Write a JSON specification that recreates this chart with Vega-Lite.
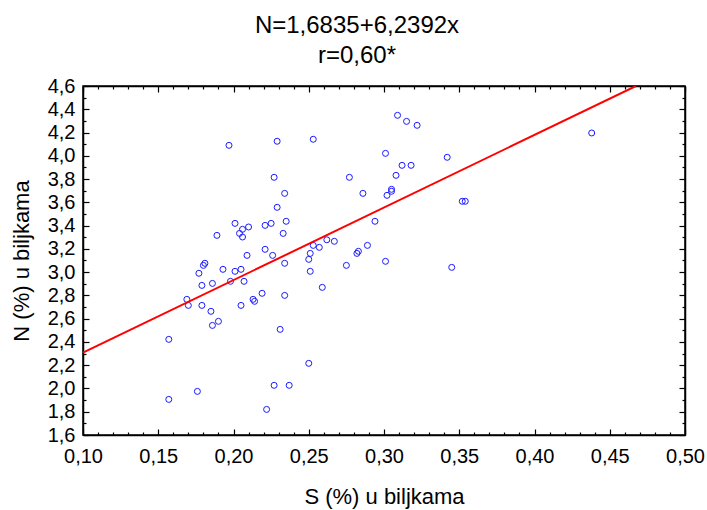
{
  "$schema": "https://vega.github.io/schema/vega-lite/v6.json",
  "width": 602,
  "height": 349,
  "autosize": {"type": "none"},
  "padding": {"left": 83, "top": 86, "right": 22, "bottom": 75},
  "background": "white",
  "config": {
    "view": {"stroke": "black", "strokeWidth": 1.5},
    "font": "Liberation Sans",
    "axis": {"grid": false, "domainColor": "black", "domainWidth": 1.5, "tickColor": "black", "tickWidth": 1.2, "labelColor": "black", "titleColor": "black", "labelFont": "Liberation Sans", "titleFont": "Liberation Sans", "titleFontWeight": "normal"}
  },
  "title": {
    "text": ["N=1,6835+6,2392x", "r=0,60*"],
    "font": "Liberation Sans",
    "fontSize": 24,
    "fontWeight": "normal",
    "color": "black",
    "anchor": "middle",
    "dx": -27,
    "lineHeight": 30,
    "offset": 8
  },
  "datasets": {
    "pts": [
      {"S": 0.197, "N": 4.090}, {"S": 0.229, "N": 4.125}, {"S": 0.253, "N": 4.142},
      {"S": 0.227, "N": 3.815}, {"S": 0.234, "N": 3.677}, {"S": 0.229, "N": 3.557},
      {"S": 0.201, "N": 3.419}, {"S": 0.206, "N": 3.368}, {"S": 0.210, "N": 3.388},
      {"S": 0.204, "N": 3.333}, {"S": 0.206, "N": 3.302}, {"S": 0.221, "N": 3.402},
      {"S": 0.225, "N": 3.419}, {"S": 0.235, "N": 3.437}, {"S": 0.233, "N": 3.333},
      {"S": 0.189, "N": 3.316}, {"S": 0.209, "N": 3.144}, {"S": 0.221, "N": 3.196},
      {"S": 0.226, "N": 3.144}, {"S": 0.253, "N": 3.230}, {"S": 0.257, "N": 3.213},
      {"S": 0.262, "N": 3.278}, {"S": 0.267, "N": 3.265}, {"S": 0.251, "N": 3.161},
      {"S": 0.250, "N": 3.110}, {"S": 0.234, "N": 3.076}, {"S": 0.181, "N": 3.076},
      {"S": 0.180, "N": 3.058}, {"S": 0.177, "N": 2.990}, {"S": 0.193, "N": 3.024},
      {"S": 0.201, "N": 3.007}, {"S": 0.205, "N": 3.024}, {"S": 0.251, "N": 3.007},
      {"S": 0.179, "N": 2.886}, {"S": 0.186, "N": 2.903}, {"S": 0.198, "N": 2.921},
      {"S": 0.207, "N": 2.921}, {"S": 0.169, "N": 2.766}, {"S": 0.170, "N": 2.714},
      {"S": 0.179, "N": 2.714}, {"S": 0.185, "N": 2.663}, {"S": 0.205, "N": 2.714},
      {"S": 0.213, "N": 2.766}, {"S": 0.214, "N": 2.749}, {"S": 0.219, "N": 2.818},
      {"S": 0.234, "N": 2.800}, {"S": 0.259, "N": 2.869}, {"S": 0.186, "N": 2.542},
      {"S": 0.190, "N": 2.577}, {"S": 0.231, "N": 2.508}, {"S": 0.157, "N": 2.422},
      {"S": 0.250, "N": 2.216}, {"S": 0.157, "N": 1.906}, {"S": 0.176, "N": 1.975},
      {"S": 0.227, "N": 2.027}, {"S": 0.237, "N": 2.027}, {"S": 0.222, "N": 1.820},
      {"S": 0.309, "N": 4.348}, {"S": 0.315, "N": 4.296}, {"S": 0.322, "N": 4.262},
      {"S": 0.301, "N": 4.021}, {"S": 0.342, "N": 3.987}, {"S": 0.277, "N": 3.815},
      {"S": 0.312, "N": 3.918}, {"S": 0.318, "N": 3.918}, {"S": 0.308, "N": 3.832},
      {"S": 0.286, "N": 3.677}, {"S": 0.305, "N": 3.712}, {"S": 0.305, "N": 3.695},
      {"S": 0.302, "N": 3.660}, {"S": 0.352, "N": 3.609}, {"S": 0.354, "N": 3.609},
      {"S": 0.294, "N": 3.437}, {"S": 0.289, "N": 3.230}, {"S": 0.282, "N": 3.161},
      {"S": 0.283, "N": 3.179}, {"S": 0.301, "N": 3.093}, {"S": 0.275, "N": 3.058},
      {"S": 0.345, "N": 3.041}, {"S": 0.438, "N": 4.196}
    ],
    "fit": [
      {"S": 0.10, "N": 2.3074},
      {"S": 0.4674, "N": 4.6}
    ]
  },
  "layer": [
    {
      "data": {"name": "pts"},
      "mark": {"type": "point", "shape": "circle", "filled": false, "color": "#1a1aff", "size": 36, "strokeWidth": 1, "opacity": 1},
      "encoding": {
        "x": {
          "field": "S", "type": "quantitative",
          "scale": {"domain": [0.1, 0.5], "nice": false, "zero": false},
          "axis": {
            "orient": "bottom",
            "title": "S (%) u biljkama",
            "titleFontSize": 22,
            "titlePadding": 17,
            "labelFontSize": 20,
            "labelPadding": 17,
            "values": [0.10,0.11,0.12,0.13,0.14,0.15,0.16,0.17,0.18,0.19,0.20,0.21,0.22,0.23,0.24,0.25,0.26,0.27,0.28,0.29,0.30,0.31,0.32,0.33,0.34,0.35,0.36,0.37,0.38,0.39,0.40,0.41,0.42,0.43,0.44,0.45,0.46,0.47,0.48,0.49,0.50],
            "labelExpr": "round(datum.value*100) % 5 == 0 ? replace(format(datum.value, '.2f'), '.', ',') : ''",
            "labelOverlap": false,
            "labelFlush": false,
            "tickSize": {"condition": {"test": "round(datum.value*100) % 5 == 0", "value": -6}, "value": -3}
          }
        },
        "y": {
          "field": "N", "type": "quantitative",
          "scale": {"domain": [1.6, 4.6], "nice": false, "zero": false},
          "axis": {
            "orient": "left",
            "title": "N (%) u biljkama",
            "titleFontSize": 22,
            "titlePadding": 14,
            "labelFontSize": 20,
            "labelPadding": 14,
            "values": [1.6,1.7,1.8,1.9,2.0,2.1,2.2,2.3,2.4,2.5,2.6,2.7,2.8,2.9,3.0,3.1,3.2,3.3,3.4,3.5,3.6,3.7,3.8,3.9,4.0,4.1,4.2,4.3,4.4,4.5,4.6],
            "labelExpr": "round(datum.value*10) % 2 == 0 ? replace(format(datum.value, '.1f'), '.', ',') : ''",
            "labelOverlap": false,
            "labelFlush": false,
            "tickSize": {"condition": {"test": "round(datum.value*10) % 2 == 0", "value": -6}, "value": -3}
          }
        }
      }
    },
    {
      "data": {"name": "fit"},
      "mark": {"type": "line", "color": "#ff0000", "strokeWidth": 2, "clip": true},
      "encoding": {
        "x": {
          "field": "S", "type": "quantitative",
          "scale": {"domain": [0.1, 0.5], "nice": false, "zero": false},
          "axis": {
            "orient": "top",
            "title": null,
            "labels": false,
            "values": [0.10,0.11,0.12,0.13,0.14,0.15,0.16,0.17,0.18,0.19,0.20,0.21,0.22,0.23,0.24,0.25,0.26,0.27,0.28,0.29,0.30,0.31,0.32,0.33,0.34,0.35,0.36,0.37,0.38,0.39,0.40,0.41,0.42,0.43,0.44,0.45,0.46,0.47,0.48,0.49,0.50],
            "tickSize": {"condition": {"test": "round(datum.value*100) % 5 == 0", "value": -6}, "value": -3}
          }
        },
        "y": {
          "field": "N", "type": "quantitative",
          "scale": {"domain": [1.6, 4.6], "nice": false, "zero": false},
          "axis": {
            "orient": "right",
            "title": null,
            "labels": false,
            "values": [1.6,1.7,1.8,1.9,2.0,2.1,2.2,2.3,2.4,2.5,2.6,2.7,2.8,2.9,3.0,3.1,3.2,3.3,3.4,3.5,3.6,3.7,3.8,3.9,4.0,4.1,4.2,4.3,4.4,4.5,4.6],
            "tickSize": {"condition": {"test": "round(datum.value*10) % 2 == 0", "value": -6}, "value": -3}
          }
        }
      }
    }
  ],
  "resolve": {"axis": {"x": "independent", "y": "independent"}}
}
